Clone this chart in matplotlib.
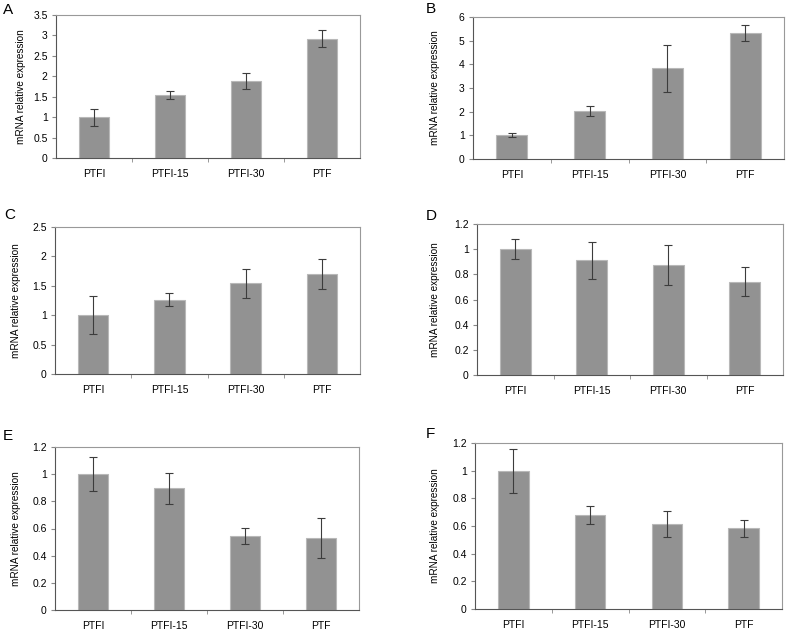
import matplotlib
matplotlib.use('Agg')
import matplotlib.pyplot as plt

plt.rcParams['font.family'] = ['Liberation Sans', 'DejaVu Sans']

groups = ['PTFI', 'PTFI-15', 'PTFI-30', 'PTF']

a_mean = [1.0, 1.54, 1.88, 2.92]
a_err = [0.21, 0.10, 0.20, 0.21]
b_mean = [1.0, 2.04, 3.83, 5.31]
b_err = [0.08, 0.22, 0.98, 0.34]
c_mean = [1.0, 1.26, 1.54, 1.70]
c_err = [0.32, 0.11, 0.24, 0.25]
d_mean = [1.0, 0.912, 0.876, 0.741]
d_err = [0.08, 0.147, 0.158, 0.116]
e_mean = [1.0, 0.895, 0.546, 0.527]
e_err = [0.127, 0.111, 0.061, 0.147]
f_mean = [1.0, 0.680, 0.615, 0.583]
f_err = [0.158, 0.062, 0.093, 0.059]

# letter, means, errors, ymax, step, axes box (px), letter pos (px), ylabel offset (px)
panels = [
    ('A', a_mean, a_err, 3.5, 0.5, (56, 15, 360, 158), (3, 10), 30),
    ('B', b_mean, b_err, 6, 1, (473, 17, 784, 159), (426, 9), 33),
    ('C', c_mean, c_err, 2.5, 0.5, (55, 227, 360, 374), (4, 215), 34),
    ('D', d_mean, d_err, 1.2, 0.2, (477, 224, 783, 375), (426, 216), 37),
    ('E', e_mean, e_err, 1.2, 0.2, (55, 447, 359, 610), (3, 436), 34),
    ('F', f_mean, f_err, 1.2, 0.2, (475, 443, 782, 609), (426, 434), 35),
]

W, H = 788, 630
fig = plt.figure(figsize=(W / 100, H / 100), dpi=100)

for letter, mean, err, ymax, step, box, lab, yoff in panels:
    x0, y0, x1, y1 = box
    ax = fig.add_axes([x0 / W, 1 - y1 / H, (x1 - x0) / W, (y1 - y0) / H])
    x = range(len(groups))
    ax.bar(x, mean, width=0.4, color='#929292', edgecolor='#b8b8b8', linewidth=0.8)
    ax.errorbar(x, mean, yerr=err, fmt='none', ecolor='#3c3c3c', elinewidth=0.8,
                capsize=3, capthick=0.8)
    ax.set_xlim(-0.5, 3.5)
    ax.set_ylim(0, ymax)
    n = int(round(ymax / step))
    yt = [i * step for i in range(n + 1)]
    ax.set_yticks(yt)
    ax.set_yticklabels(['%g' % round(v, 2) for v in yt])
    ax.set_xticks(list(x))
    ax.set_xticklabels(groups)
    ax.set_xticks([0.5, 1.5, 2.5], minor=True)
    ax.tick_params(axis='x', which='major', length=0, labelsize=7.5, pad=8)
    ax.tick_params(axis='x', which='minor', length=3, color='#888888', direction='out')
    ax.tick_params(axis='y', length=3, color='#888888', labelsize=7.5, pad=3)
    for s in ax.spines.values():
        s.set_color('#999999')
        s.set_linewidth(0.8)
    ax.spines['left'].set_color('#555555')
    ax.spines['bottom'].set_color('#555555')
    ax.set_ylabel('mRNA relative expression', fontsize=7.2)
    ax.yaxis.set_label_coords(-yoff / (x1 - x0), 0.5)
    fig.text(lab[0] / W, 1 - lab[1] / H, letter, fontsize=11, ha='left', va='center')

fig.savefig('out.png', dpi=100, facecolor='white')
